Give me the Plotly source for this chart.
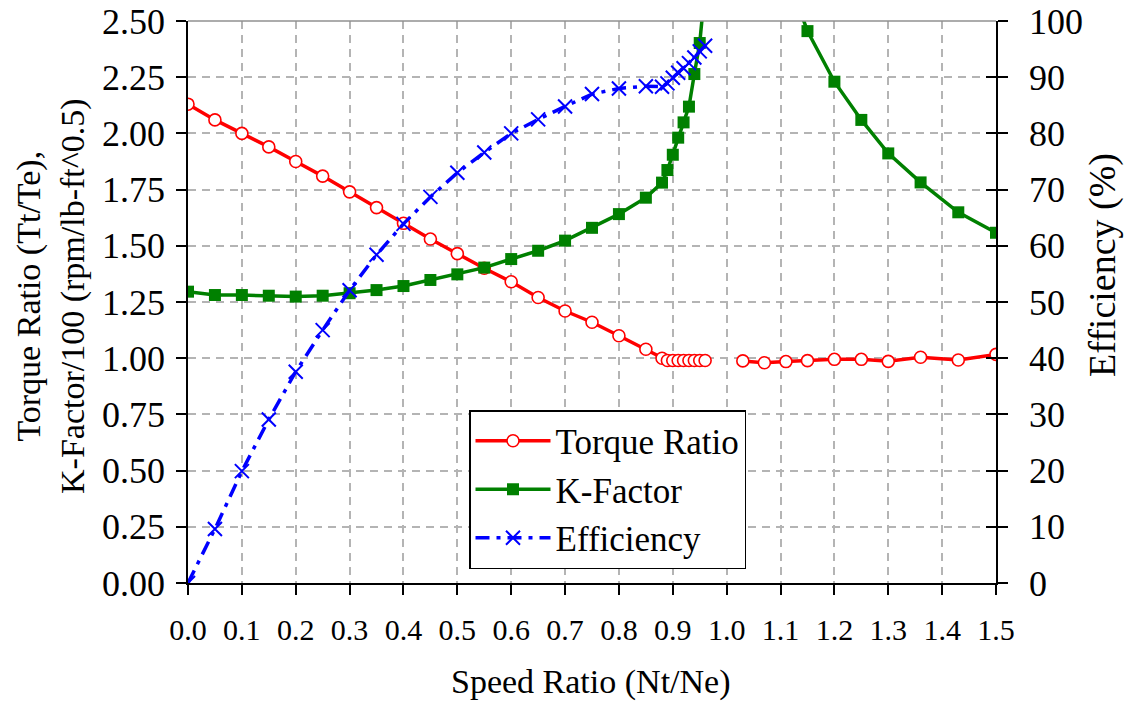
import plotly.graph_objects as go

# ---- data ----
speed_low = [0.00, 0.05, 0.10, 0.15, 0.20, 0.25, 0.30, 0.35, 0.40, 0.45, 0.50, 0.55, 0.60,
             0.65, 0.70, 0.75, 0.80, 0.85, 0.88, 0.89, 0.90, 0.91, 0.92, 0.93, 0.94, 0.95, 0.96]
torque_low = [2.13, 2.06, 2.00, 1.94, 1.875, 1.81, 1.74, 1.67, 1.60, 1.53, 1.465, 1.40, 1.34,
              1.27, 1.21, 1.16, 1.10, 1.04, 1.00, 0.99, 0.99, 0.99, 0.99, 0.99, 0.99, 0.99, 0.99]
kfactor_low = [1.296, 1.281, 1.281, 1.278, 1.274, 1.278, 1.289, 1.303, 1.321, 1.348, 1.373, 1.403, 1.441,
               1.478, 1.523, 1.580, 1.641, 1.714, 1.781, 1.837, 1.905, 1.981, 2.049, 2.119, 2.264, 2.402, 2.65]
efficiency_low = [0.0, 9.6, 19.9, 29.1, 37.6, 45.0, 52.1, 58.4, 63.9, 68.7, 73.0, 76.6, 80.0,
                  82.5, 84.8, 87.0, 88.0, 88.4, 88.3, 88.9, 89.9, 90.8, 91.6, 92.5, 93.5, 94.6, 95.6]

speed_high = [1.03, 1.07, 1.11, 1.15, 1.20, 1.25, 1.30, 1.36, 1.43, 1.50]
torque_high = [0.988, 0.980, 0.985, 0.989, 0.995, 0.995, 0.986, 1.004, 0.992, 1.017]
kfactor_high = [3.6, 3.1, 2.72, 2.455, 2.230, 2.060, 1.911, 1.782, 1.649, 1.558]

x_ticks = [0.0, 0.1, 0.2, 0.3, 0.4, 0.5, 0.6, 0.7, 0.8, 0.9, 1.0, 1.1, 1.2, 1.3, 1.4, 1.5]
y_ticks = [0.00, 0.25, 0.50, 0.75, 1.00, 1.25, 1.50, 1.75, 2.00, 2.25, 2.50]
y2_ticks = [0, 10, 20, 30, 40, 50, 60, 70, 80, 90, 100]

FONT = "Liberation Serif"

x_all = speed_low + [None] + speed_high
torque_all = torque_low + [None] + torque_high
kfactor_all = kfactor_low + [None] + kfactor_high

fig = go.Figure()

fig.add_trace(go.Scatter(
    x=x_all, y=torque_all, name="Torque Ratio", mode="lines+markers",
    connectgaps=False, cliponaxis=True,
    line=dict(color="#ff0000", width=3.5),
    marker=dict(symbol="circle", size=12, color="white", line=dict(color="#ff0000", width=1.6)),
))
fig.add_trace(go.Scatter(
    x=x_all, y=kfactor_all, name="K-Factor", mode="lines+markers",
    connectgaps=False, cliponaxis=True,
    line=dict(color="#008000", width=3.5),
    marker=dict(symbol="square", size=12, color="#008000"),
))
fig.add_trace(go.Scatter(
    x=speed_low, y=efficiency_low, name="Efficiency", mode="lines+markers",
    yaxis="y2", cliponaxis=True,
    line=dict(color="#0000ff", width=3.5, dash="14px,7px,4px,7px"),
    marker=dict(symbol="x-thin", size=14, color="#0000ff", line=dict(color="#0000ff", width=2)),
))

W, H = 1128, 707
PL, PR, PT, PB = 188, 996, 21, 583          # target plot box in window pixels
L, T = PL, PT
R = W - PR
B = H - PB
PW, PH = PR - PL, PB - PT


def px(xw):
    return (xw - PL) / PW


def py(yw):
    return (PB - yw) / PH


fig.update_layout(
    width=W, height=H,
    margin=dict(l=L, r=R, t=T, b=B, pad=0, autoexpand=False),
    paper_bgcolor="white", plot_bgcolor="white",
    font=dict(family=FONT, color="black", size=32),
    showlegend=True,
    legend=dict(
        x=px(469), y=py(410), xanchor="left", yanchor="top",
        bgcolor="white", bordercolor="black", borderwidth=1.5,
        font=dict(family=FONT, size=35, color="black"),
        itemwidth=75, tracegroupgap=0,
    ),
    xaxis=dict(
        range=[0, 1.5], tickvals=x_ticks, ticktext=[f"{v:.1f}" for v in x_ticks],
        showgrid=True, gridcolor="#b4b4b4", gridwidth=1.5, griddash="8px,6px",
        showline=True, linecolor="black", linewidth=1.5,
        ticks="outside", ticklen=10, tickwidth=1.5, tickcolor="black",
        tickfont=dict(family=FONT, size=30), ticklabelstandoff=9,
        zeroline=False, automargin=False,
    ),
    yaxis=dict(
        range=[0, 2.5], tickvals=y_ticks, ticktext=[f"{v:.2f}" for v in y_ticks],
        showgrid=True, gridcolor="#b4b4b4", gridwidth=1.5, griddash="8px,6px",
        showline=True, linecolor="black", linewidth=1.5,
        ticks="outside", ticklen=10, tickwidth=1.5, tickcolor="black",
        tickfont=dict(family=FONT, size=36), ticklabelstandoff=4,
        zeroline=False, automargin=False,
    ),
    yaxis2=dict(
        range=[0, 100], tickvals=y2_ticks, overlaying="y", side="right", anchor="x",
        showgrid=False, showline=True, linecolor="black", linewidth=1.5,
        ticks="outside", ticklen=10, tickwidth=1.5, tickcolor="black",
        tickfont=dict(family=FONT, size=36), ticklabelstandoff=14,
        zeroline=False, automargin=False,
    ),
    yaxis3=dict(
        range=[0, 100], tickvals=y2_ticks, overlaying="y", side="right", anchor="x",
        showgrid=False, showline=False, showticklabels=False,
        ticks="inside", ticklen=10, tickwidth=1.5, tickcolor="black",
        zeroline=False, automargin=False,
    ),
    shapes=[dict(type="line", xref="paper", yref="paper", x0=0, x1=1, y0=1, y1=1,
                 line=dict(color="#909090", width=1.5))],
    annotations=[
        dict(text="Torque Ratio (Tt/Te),<br>K-Factor/100 (rpm/lb-ft^0.5)",
             xref="paper", yref="paper", x=px(51), y=py(296),
             xanchor="center", yanchor="middle", textangle=-90, showarrow=False,
             font=dict(family=FONT, size=34, color="black")),
        dict(text="Efficiency (%)",
             xref="paper", yref="paper", x=px(1102), y=py(265),
             xanchor="center", yanchor="middle", textangle=-90, showarrow=False,
             font=dict(family=FONT, size=38, color="black")),
        dict(text="Speed Ratio (Nt/Ne)",
             xref="paper", yref="paper", x=px(591), y=py(682),
             xanchor="center", yanchor="middle", showarrow=False,
             font=dict(family=FONT, size=34, color="black")),
    ],
)

# invisible trace to activate yaxis3 (inside ticks on the right axis)
fig.add_trace(go.Scatter(x=[None], y=[None], yaxis="y3", showlegend=False, hoverinfo="skip"))

fig.write_html("out.html", config={"displayModeBar": False},
               post_script="document.body.style.margin='0';document.body.style.overflow='hidden';")
